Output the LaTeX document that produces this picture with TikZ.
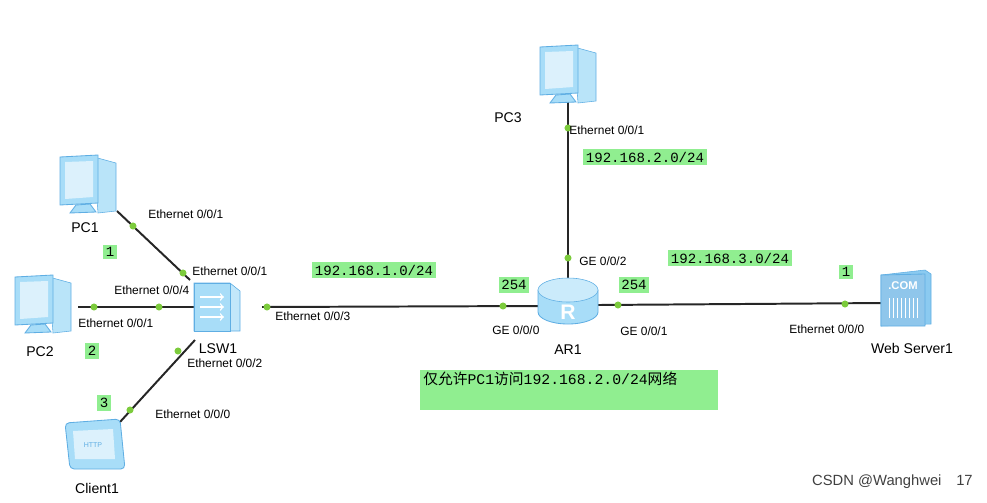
\documentclass[tikz,border=0pt]{standalone}
\usepackage{fontspec}
\setmainfont{Liberation Sans}
\newfontfamily\monof{Liberation Mono}
\newfontfamily\cjk{Noto Sans CJK SC}
\begin{document}
\begin{tikzpicture}[x=0.025cm,y=-0.025cm,
  lab/.style={font=\fontsize{8.5}{9}\selectfont,inner sep=0pt},
  nm/.style={font=\fontsize{10}{11}\selectfont,inner sep=0pt},
  gbox/.style={fill=gfill,font=\monof\fontsize{10}{11}\selectfont,inner sep=2pt},
  dot/.style={circle,fill=dotg,inner sep=0pt,minimum size=5pt},
  link/.style={line width=1.4pt,black!85},
  ico/.style={fill=icol,draw=icod,line width=0.6pt}]
\definecolor{gfill}{HTML}{90EE90}
\definecolor{dotg}{HTML}{7CCB3C}
\definecolor{icol}{HTML}{A8DDF8}
\definecolor{icod}{HTML}{5FAEE3}
\useasboundingbox (0,0) rectangle (987,502);
\coordinate (pc1) at (90,185);
\coordinate (pc2) at (45,305);
\coordinate (pc3) at (570,75);
\coordinate (cl) at (95,445);
\coordinate (sw) at (228,307);
\coordinate (ar) at (568,300);
\coordinate (ws) at (903,300);
% links
\coordinate (a1) at (117,211); \coordinate (a2) at (190,280);
\draw[link] (a1) -- (a2);
\coordinate (b1) at (78,307); \coordinate (b2) at (195,307);
\draw[link] (b1) -- (b2);
\coordinate (c1) at (120,422); \coordinate (c2) at (195,340);
\draw[link] (c1) -- (c2);
\coordinate (d1) at (262,307); \coordinate (d2) at (540,306);
\draw[link] (d1) -- (d2);
\coordinate (e1) at (568,100); \coordinate (e2) at (568,282);
\draw[link] (e1) -- (e2);
\coordinate (f1) at (598,305); \coordinate (f2) at (885,303);
\draw[link] (f1) -- (f2);
% PC icons
\foreach \p in {pc1,pc2,pc3}{
 \begin{scope}[shift={(\p)}]
  \fill[icol!80!white,draw=icod] (4,-28) -- (26,-22) -- (26,26) -- (8,28) -- cycle;
  \fill[ico] (-30,-28) -- (8,-30) -- (8,18) -- (-30,20) -- cycle;
  \fill[white!60!icol] (-25,-23) -- (3,-24) -- (3,12) -- (-25,14) -- cycle;
  \fill[ico] (-14,20) -- (0,19) -- (6,27) -- (-20,28) -- cycle;
 \end{scope}}
\node[nm] (n1) at (85,228) {PC1};
\node[nm] (n2) at (40,352) {PC2};
\node[nm] (n3) at (508,118) {PC3};
% switch
\begin{scope}[shift={(sw)}]
 \fill[icol!70!white,draw=icod] (-34,-24) -- (2,-24) -- (12,-16) -- (12,24) -- (-34,24) -- cycle;
 \fill[ico] (-34,-24) -- (2,-24) -- (2,24) -- (-34,24) -- cycle;
 \foreach \yy in {-10,0,10}{\draw[white,line width=1pt,->] (-28,\yy) -- (-4,\yy);}
\end{scope}
\node[nm] (n4) at (218,349) {LSW1};
% client
\begin{scope}[shift={(cl)}]
 \fill[ico,rounded corners=3pt] (-30,-22) -- (25,-26) -- (30,24) -- (-25,24) -- cycle;
 \fill[white!60!icol] (-22,-14) -- (18,-16) -- (20,14) -- (-20,14) -- cycle;
 \node[font=\fontsize{5}{5}\selectfont,text=icod] at (-2,0) {HTTP};
\end{scope}
\node[nm] (n5) at (97,488) {Client1};
% router
\begin{scope}[shift={(ar)}]
 \fill[ico] (-30,-10) -- (-30,12) arc (180:0:30 and 12) -- (30,-10) -- cycle;
 \fill[icol!60!white,draw=icod] (0,-10) ellipse (30 and 12);
 \node[white,font=\bfseries\fontsize{15}{15}\selectfont] at (0,12) {R};
\end{scope}
\node[nm] (n6) at (568,350) {AR1};
% web server
\begin{scope}[shift={(ws)}]
 \fill[icol!60!icod,draw=icod] (-22,-25) -- (22,-30) -- (28,-26) -- (28,24) -- (-22,26) -- cycle;
 \fill[ico,fill=icod!70!white] (-22,-25) -- (22,-26) -- (22,26) -- (-22,26) -- cycle;
 \node[white,font=\bfseries\fontsize{8}{8}\selectfont] at (0,-14) {.COM};
 \foreach \xx in {-14,-10,...,14}{\draw[white] (\xx,-2) -- (\xx,18);}
\end{scope}
\node[nm] (n7) at (912,348) {Web Server1};
% port dots
\foreach \c in {(133,226),(183,273),(94,307),(159,307),(130,410),(178,351),(267,307),(503,306),(568,128),(568,258),(618,305),(845,304)}
  \node[dot] at \c {};
% port labels
\node[lab,anchor=west] (l1) at (148,214) {Ethernet 0/0/1};
\node[lab,anchor=west] (l2) at (192,271) {Ethernet 0/0/1};
\node[lab,anchor=west] (l3) at (114,290) {Ethernet 0/0/4};
\node[lab,anchor=west] (l4) at (78,323) {Ethernet 0/0/1};
\node[lab,anchor=west] (l5) at (187,363) {Ethernet 0/0/2};
\node[lab,anchor=west] (l6) at (155,414) {Ethernet 0/0/0};
\node[lab,anchor=west] (l7) at (275,316) {Ethernet 0/0/3};
\node[lab,anchor=west] (l8) at (569,130) {Ethernet 0/0/1};
\node[lab,anchor=west] (l9) at (579,261) {GE 0/0/2};
\node[lab,anchor=west] (l10) at (492,330) {GE 0/0/0};
\node[lab,anchor=west] (l11) at (620,331) {GE 0/0/1};
\node[lab,anchor=west] (l12) at (789,329) {Ethernet 0/0/0};
% green boxes
\node[gbox] (g1) at (110,252) {1};
\node[gbox] (g2) at (92,351) {2};
\node[gbox] (g3) at (104,403) {3};
\node[gbox] (g4) at (374,270) {192.168.1.0/24};
\node[gbox] (g5) at (645,157) {192.168.2.0/24};
\node[gbox] (g6) at (730,258) {192.168.3.0/24};
\node[gbox] (g7) at (514,285) {254};
\node[gbox] (g8) at (634,285) {254};
\node[gbox] (g9) at (846,272) {1};
\fill[gfill] (420,370) rectangle (718,410);
\node[anchor=north west,inner sep=0pt,font=\fontsize{10.5}{11}\selectfont] (g10) at (423,372) {{\cjk 仅允许}{\monof PC1}{\cjk 访问}{\monof 192.168.2.0/24}{\cjk 网络}};
\node[anchor=east,font=\fontsize{10.5}{11}\selectfont,text=black!75,inner sep=0pt] (wm) at (973,482) {CSDN @Wanghwei\quad 17};
\end{tikzpicture}
\end{document}
